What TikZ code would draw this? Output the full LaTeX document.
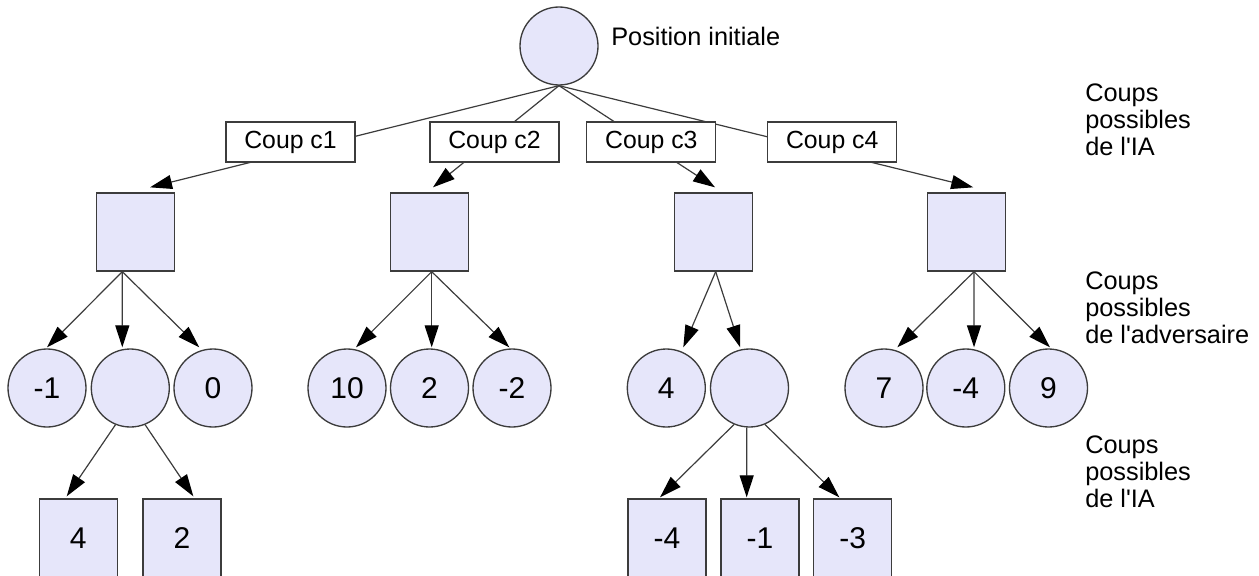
\documentclass[tikz,border=0pt]{standalone}
\usepackage{fontspec}
\setmainfont{Liberation Sans}
\usetikzlibrary{arrows.meta}
\definecolor{lavande}{RGB}{230,230,250}
\definecolor{trait}{RGB}{60,60,60}

\begin{document}
\begin{tikzpicture}[x=0.75pt, y=-0.75pt,
	every node/.style={font=\fontsize{19}{20.25}\selectfont},
	rond/.style={circle, draw=trait, fill=lavande, line width=1pt, minimum size=58.5pt, inner sep=0pt, font=\fontsize{22.5}{27}\selectfont},
	carre/.style={rectangle, draw=trait, fill=lavande, line width=1pt, minimum size=58.5pt, inner sep=0pt, font=\fontsize{22.5}{27}\selectfont},
	coup/.style={rectangle, draw=trait, fill=white, line width=1pt, minimum width=96.75pt, minimum height=30pt, inner sep=0pt, font=\fontsize{18.6}{22}\selectfont},
	fleche/.style={draw=trait, line width=0.9pt, -{Triangle[length=16.5pt, width=10.5pt, color=black]}}]
	\useasboundingbox (0,0) rectangle (1259,575);
	% Position initiale
	\node[rond] (racine) at (559,46) {};
	\node[anchor=west, inner sep=0pt] (titre) at (611,36) {Position initiale};
	% Coups de l'IA
	\node[carre] (ia1) at (135.5,232) {};
	\node[carre] (ia2) at (429.5,232) {};
	\node[carre] (ia3) at (713.3,232) {};
	\node[carre] (ia4) at (966.3,232) {};
	\draw[fleche] (racine.south) -- ([xshift=10.9pt, yshift=3.75pt]ia1.north);
	\draw[fleche] (racine.south) -- ([xshift=2.6pt, yshift=3.75pt]ia2.north);
	\draw[fleche] (racine.south) -- ([xshift=1.3pt, yshift=3.75pt]ia3.north);
	\draw[fleche] (racine.south) -- ([xshift=5.2pt, yshift=3.75pt]ia4.north);
	\node[coup] (c1) at (290.5,142) {Coup c1};
	\node[coup] (c2) at (494.5,142) {Coup c2};
	\node[coup] (c3) at (651.3,142) {Coup c3};
	\node[coup] (c4) at (832.2,142) {Coup c4};
	% Coups de l'adversaire
	\node[rond] (a11) at (47,388) {-1};
	\node[rond] (a12) at (130.3,388) {};
	\node[rond] (a13) at (213,388) {0};
	\node[rond] (a21) at (347,388) {10};
	\node[rond] (a22) at (429.5,388) {2};
	\node[rond] (a23) at (512,388) {-2};
	\node[rond] (a31) at (666.3,388) {4};
	\node[rond] (a32) at (749.5,388) {};
	\node[rond] (a41) at (884,388) {7};
	\node[rond] (a42) at (965.8,388) {-4};
	\node[rond] (a43) at (1048.5,388) {9};
	\draw[fleche] ([xshift=-9.9pt]ia1.south) -- ([yshift=0.75pt]a11.north);
	\draw[fleche] ([xshift=-9.9pt]ia1.south) -- ([xshift=-6pt, yshift=0.75pt]a12.north);
	\draw[fleche] ([xshift=-9.9pt]ia1.south) -- ([xshift=-10.3pt, yshift=0.75pt]a13.north);
	\draw[fleche] ([xshift=1.65pt]ia2.south) -- ([xshift=6.75pt, yshift=0.75pt]a21.north);
	\draw[fleche] ([xshift=1.65pt]ia2.south) -- ([xshift=1.65pt, yshift=0.75pt]a22.north);
	\draw[fleche] ([xshift=1.65pt]ia2.south) -- ([xshift=-2pt, yshift=0.75pt]a23.north);
	\draw[fleche] ([xshift=1.8pt]ia3.south) -- ([xshift=12.75pt, yshift=0.75pt]a31.north);
	\draw[fleche] ([xshift=1.8pt]ia3.south) -- ([xshift=-7pt, yshift=0.75pt]a32.north);
	\draw[fleche] ([xshift=5.8pt]ia4.south) -- ([xshift=10pt, yshift=0.75pt]a41.north);
	\draw[fleche] ([xshift=5.8pt]ia4.south) -- ([xshift=6.15pt, yshift=0.75pt]a42.north);
	\draw[fleche] ([xshift=5.8pt]ia4.south) -- ([xshift=1.1pt, yshift=0.75pt]a43.north);
	% Feuilles
	\node[carre] (f1) at (78.3,538) {4};
	\node[carre] (f2) at (182,538) {2};
	\node[carre] (f3) at (667,538) {-4};
	\node[carre] (f4) at (760,538) {-1};
	\node[carre] (f5) at (852.8,538) {-3};
	\draw[fleche] (a12.248) -- ([xshift=-8.7pt, yshift=1.5pt]f1.north);
	\draw[fleche] (a12.292) -- ([xshift=8.5pt, yshift=1.5pt]f2.north);
	\draw[fleche] (a32.247) -- ([xshift=-5.25pt, yshift=0.75pt]f3.north);
	\draw[fleche] ([xshift=-2.1pt]a32.south) -- ([xshift=-10pt, yshift=0.75pt]f4.north);
	\draw[fleche] (a32.293) -- ([xshift=-10.1pt, yshift=0.75pt]f5.north);
	% Niveaux
	\node[anchor=north west, align=left, inner sep=0pt] (niv1) at (1085,84) {Coups\\possibles\\de l\textquotesingle IA};
	\node[anchor=north west, align=left, inner sep=0pt] (niv2) at (1085,272) {Coups\\possibles\\de l\textquotesingle adversaire};
	\node[anchor=north west, align=left, inner sep=0pt] (niv3) at (1085,436) {Coups\\possibles\\de l\textquotesingle IA};
\end{tikzpicture}
\end{document}
